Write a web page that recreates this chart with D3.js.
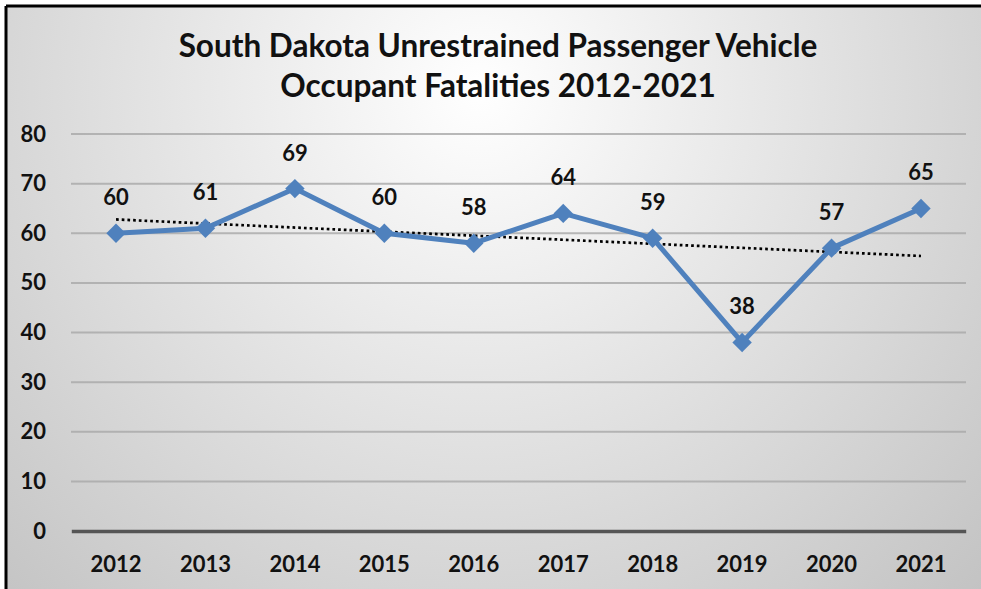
<!DOCTYPE html>
<html><head><meta charset="utf-8">
<script src="https://cdn.jsdelivr.net/npm/d3@7"></script>
<style>html,body{margin:0;padding:0;background:#fff;overflow:hidden}</style>
</head><body>
<svg id="c" width="981" height="589"></svg>
<script>
const years = ["2012","2013","2014","2015","2016","2017","2018","2019","2020","2021"];
const fatalities = [60,61,69,60,58,64,59,38,57,65];
const yTicks = [0,10,20,30,40,50,60,70,80];
const titleLines = ["South Dakota Unrestrained Passenger Vehicle","Occupant Fatalities 2012-2021"];

const svg = d3.select("#c");
const W = 981, H = 589;
const FONT = "Lato, 'Open Sans', sans-serif";
const defs = svg.append("defs");
const rg = defs.append("radialGradient").attr("id","bg").attr("gradientUnits","userSpaceOnUse")
  .attr("cx",480).attr("cy",90).attr("r",720);
rg.append("stop").attr("offset","0%").attr("stop-color","#ffffff");
rg.append("stop").attr("offset","100%").attr("stop-color","#c2c2c2");
svg.append("rect").attr("x",6).attr("y",6).attr("width",W).attr("height",H).attr("fill","url(#bg)");
svg.append("line").attr("x1",6).attr("x2",W).attr("y1",6).attr("y2",6).attr("stroke","#000").attr("stroke-width",3);
svg.append("line").attr("x1",6).attr("x2",6).attr("y1",6).attr("y2",H).attr("stroke","#000").attr("stroke-width",3);

const x = d3.scaleBand().domain(years).range([71.3,965.7]);
const y = d3.scaleLinear().domain([0,80]).range([531,134]);

// gridlines
svg.append("g").selectAll("line").data(yTicks.filter(d=>d>0)).join("line")
  .attr("x1",71).attr("x2",966).attr("y1",d=>y(d)).attr("y2",d=>y(d))
  .attr("stroke","#a8a8a8").attr("stroke-opacity",0.8).attr("stroke-width",2);

// y axis labels
const yAxis = d3.axisLeft(y).tickValues(yTicks).tickSize(0).tickPadding(0);
const gy = svg.append("g").attr("transform","translate(46,0)").call(yAxis);
gy.select(".domain").remove();
gy.selectAll("text").attr("font-family",FONT).attr("font-weight","bold").attr("font-size",22).attr("fill","#111");

// x axis
const xAxis = d3.axisBottom(x).tickSize(0).tickPadding(25);
const gx = svg.append("g").attr("transform",`translate(0,${y(0)})`).call(xAxis);
gx.select(".domain").attr("stroke","#555").attr("stroke-width",3.5);
gx.selectAll("text").attr("font-family",FONT).attr("font-weight","bold").attr("font-size",22).attr("fill","#111");

// trendline (least squares)
const xs = years.map((d,i)=>i);
const mx = d3.mean(xs), my = d3.mean(fatalities);
const slope = d3.sum(xs,(v,i)=>(v-mx)*(fatalities[i]-my))/d3.sum(xs,v=>(v-mx)*(v-mx));
const icpt = my - slope*mx;
const cx = d => x(d)+x.bandwidth()/2;
svg.append("line")
  .attr("x1",cx(years[0])).attr("y1",y(icpt))
  .attr("x2",cx(years[years.length-1])).attr("y2",y(icpt+slope*(years.length-1)))
  .attr("stroke","#000").attr("stroke-width",2.7).attr("stroke-dasharray","2.7 3");

// series line
const line = d3.line().x((d,i)=>cx(years[i])).y(d=>y(d));
svg.append("path").datum(fatalities).attr("d",line).attr("fill","none")
  .attr("stroke","#4f81bd").attr("stroke-width",5).attr("stroke-linejoin","round");

// markers
svg.append("g").selectAll("path").data(fatalities).join("path")
  .attr("d",d3.symbol().type(d3.symbolDiamond2).size(240))
  .attr("transform",(d,i)=>`translate(${cx(years[i])},${y(d)})`)
  .attr("fill","#4f81bd");

// data labels
svg.append("g").selectAll("text").data(fatalities).join("text")
  .attr("x",(d,i)=>cx(years[i])).attr("y",d=>y(d)-28)
  .attr("text-anchor","middle").attr("font-family",FONT).attr("font-weight","bold")
  .attr("font-size",22).attr("fill","#111").text(d=>d);

// title
svg.append("g").selectAll("text").data(titleLines).join("text")
  .attr("x",498).attr("y",(d,i)=>57+i*40).attr("text-anchor","middle")
  .attr("font-family",FONT).attr("font-weight","bold").attr("font-size",31.5).attr("fill","#111").text(d=>d);
</script>
</body></html>
